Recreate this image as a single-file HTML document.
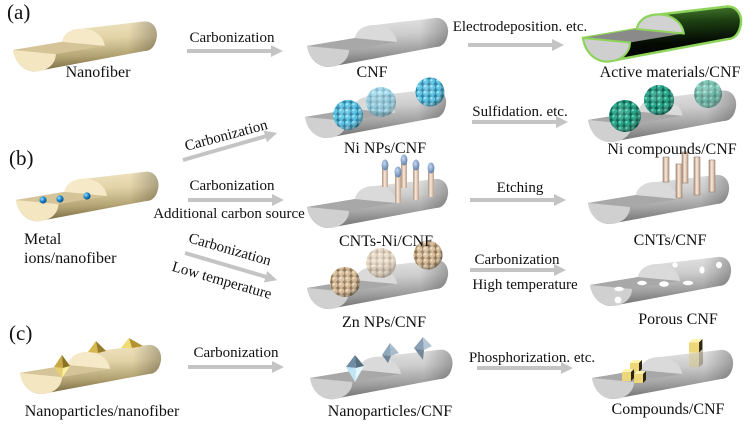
<!DOCTYPE html>
<html>
<head>
<meta charset="utf-8">
<style>
  html,body{margin:0;padding:0;background:#fff;}
  svg{display:block;}
  text{font-family:"Liberation Serif","Times New Roman",serif;fill:#111;}
</style>
</head>
<body>
<svg width="754" height="425" viewBox="0 0 754 425" xmlns="http://www.w3.org/2000/svg" xmlns:xlink="http://www.w3.org/1999/xlink">
<defs>
  <linearGradient id="gCream" x1="0" y1="0" x2="0.12" y2="1">
    <stop offset="0" stop-color="#f2e6c3"/>
    <stop offset="0.4" stop-color="#e2d3a7"/>
    <stop offset="0.75" stop-color="#b3a373"/>
    <stop offset="1" stop-color="#7a6b43"/>
  </linearGradient>
  <linearGradient id="gGray" x1="0" y1="0" x2="0.12" y2="1">
    <stop offset="0" stop-color="#e6e6e6"/>
    <stop offset="0.4" stop-color="#cdcdcd"/>
    <stop offset="0.75" stop-color="#9e9e9e"/>
    <stop offset="1" stop-color="#727272"/>
  </linearGradient>
  <linearGradient id="gGreen" x1="0" y1="0" x2="0.12" y2="1">
    <stop offset="0" stop-color="#4f8a34"/>
    <stop offset="0.35" stop-color="#1d3f12"/>
    <stop offset="0.7" stop-color="#050c03"/>
    <stop offset="1" stop-color="#000"/>
  </linearGradient>
  <linearGradient id="gEnd" x1="0" y1="0" x2="1" y2="0">
    <stop offset="0.8" stop-color="#000" stop-opacity="0"/>
    <stop offset="1" stop-color="#000" stop-opacity="0.25"/>
  </linearGradient>
  <linearGradient id="gTube" x1="0" y1="0" x2="1" y2="0">
    <stop offset="0" stop-color="#b0927c"/>
    <stop offset="0.45" stop-color="#f9eadc"/>
    <stop offset="1" stop-color="#bc9e88"/>
  </linearGradient>
  <radialGradient id="gCap" cx="0.4" cy="0.35" r="0.7">
    <stop offset="0" stop-color="#c4d8f2"/>
    <stop offset="1" stop-color="#5a7aa8"/>
  </radialGradient>
  <radialGradient id="gIon" cx="0.35" cy="0.35" r="0.7">
    <stop offset="0" stop-color="#9fe0ff"/>
    <stop offset="0.5" stop-color="#1c8ad0"/>
    <stop offset="1" stop-color="#064a80"/>
  </radialGradient>
  <radialGradient id="gShade" cx="0.4" cy="0.38" r="0.65">
    <stop offset="0" stop-color="#fff" stop-opacity="0.2"/>
    <stop offset="0.6" stop-color="#fff" stop-opacity="0"/>
    <stop offset="1" stop-color="#000" stop-opacity="0.4"/>
  </radialGradient>
  <pattern id="pBlue" width="6.5" height="6" patternUnits="userSpaceOnUse">
    <rect width="6.5" height="6" fill="#2a7c9c"/>
    <circle cx="3.25" cy="3" r="3" fill="#58c2e4"/>
    <circle cx="2.5" cy="2.2" r="1.1" fill="#a8e6f8"/>
  </pattern>
  <pattern id="pTeal" width="6.5" height="6" patternUnits="userSpaceOnUse">
    <rect width="6.5" height="6" fill="#0c5a4a"/>
    <circle cx="3.25" cy="3" r="3" fill="#22a386"/>
    <circle cx="2.5" cy="2.2" r="1.1" fill="#6fd6bd"/>
  </pattern>
  <pattern id="pTan" width="6.5" height="6" patternUnits="userSpaceOnUse">
    <rect width="6.5" height="6" fill="#8c7356"/>
    <circle cx="3.25" cy="3" r="3" fill="#d6ba95"/>
    <circle cx="2.5" cy="2.2" r="1.1" fill="#f1e0c6"/>
  </pattern>

  <path id="sil" d="M0,0 L48,-8 C50,-17 58,-21 68,-21 L128,-28 C137,-29 142,-21 141,-13 C140,-5 136,1 129,1 L22,21 C10,21 2,12 0,0 Z"/>
  <path id="upf" d="M48,-8 C50,-17 58,-21 68,-21 C80,-21 89,-13 90,-4 Z"/>
  <path id="strip" d="M0,0 L48,-8 L90,-4 L42,4 Z"/>
  <path id="frf" d="M0,0 L42,4 C42,13 34,21 22,21 C10,21 2,12 0,0 Z"/>

  <g id="fCream">
    <use xlink:href="#sil" fill="url(#gCream)"/>
    <use xlink:href="#sil" fill="url(#gEnd)"/>
    <use xlink:href="#strip" fill="#d5c497"/>
    <use xlink:href="#upf" fill="#f5e9c8"/>
    <use xlink:href="#frf" fill="#f3e6c0"/>
  </g>
  <g id="fGray">
    <use xlink:href="#sil" fill="url(#gGray)"/>
    <use xlink:href="#sil" fill="url(#gEnd)"/>
    <use xlink:href="#strip" fill="#a8a8a8"/>
    <use xlink:href="#upf" fill="#dadada"/>
    <use xlink:href="#frf" fill="#d0d0d0"/>
  </g>
  <g id="fGreen">
    <use xlink:href="#sil" fill="url(#gGreen)" stroke="#8ed45a" stroke-width="2.2"/>
    <use xlink:href="#strip" fill="#8a8a8a"/>
    <use xlink:href="#upf" fill="#d2d2d2" stroke="#8ed45a" stroke-width="1.8"/>
    <use xlink:href="#frf" fill="#cfcfcf" stroke="#8ed45a" stroke-width="1.8"/>
  </g>

  <g id="arr" fill="#c4c4c4">
    <rect x="0" y="-2" width="85" height="4"/>
    <polygon points="84,-6 96,0 84,6"/>
  </g>

  <g id="cube">
    <polygon points="0,3 3,0 12,0 9,3" fill="#fff3b0"/>
    <rect x="0" y="3" width="9" height="9" fill="#eed778"/>
    <polygon points="9,3 12,0 12,9 9,12" fill="#2e2610"/>
  </g>
</defs>

<!-- ===== Panel labels ===== -->
<text x="7" y="19" font-size="21">(a)</text>
<text x="9" y="165" font-size="21">(b)</text>
<text x="9" y="340" font-size="21">(c)</text>

<!-- ===== Fibers ===== -->
<use xlink:href="#fCream" transform="translate(13,50) scale(1.02)"/>
<use xlink:href="#fGray" transform="translate(307,46)"/>
<use xlink:href="#fGreen" transform="translate(583,38) scale(1.12)"/>

<use xlink:href="#fCream" transform="translate(16,200) scale(1.01)"/>
<use xlink:href="#fGray" transform="translate(305,117)"/>
<use xlink:href="#fGray" transform="translate(588,120) scale(1.05)"/>
<use xlink:href="#fGray" transform="translate(307,207)"/>
<use xlink:href="#fGray" transform="translate(588,203)"/>
<use xlink:href="#fGray" transform="translate(307,288)"/>
<use xlink:href="#fGray" transform="translate(590,285)"/>

<use xlink:href="#fCream" transform="translate(20,373)"/>
<use xlink:href="#fGray" transform="translate(310,378) scale(1.01)"/>
<use xlink:href="#fGray" transform="translate(592,378)"/>

<!-- metal ions -->
<circle cx="43" cy="200" r="3.6" fill="url(#gIon)"/>
<circle cx="60" cy="199" r="3.6" fill="url(#gIon)"/>
<circle cx="87" cy="196" r="3.6" fill="url(#gIon)"/>

<!-- Ni NPs balls -->
<g>
  <circle cx="348" cy="115" r="15" fill="url(#pBlue)"/><circle cx="348" cy="115" r="15" fill="url(#gShade)"/>
  <g opacity="0.55"><circle cx="381" cy="102" r="15" fill="url(#pBlue)"/><circle cx="381" cy="102" r="15" fill="url(#gShade)"/></g>
  <circle cx="430" cy="92" r="14.5" fill="url(#pBlue)"/><circle cx="430" cy="92" r="14.5" fill="url(#gShade)"/>
</g>
<!-- Ni compounds balls -->
<g>
  <circle cx="625" cy="116" r="16" fill="url(#pTeal)"/><circle cx="625" cy="116" r="16" fill="url(#gShade)"/>
  <circle cx="659" cy="100" r="15" fill="url(#pTeal)"/><circle cx="659" cy="100" r="15" fill="url(#gShade)"/>
  <g opacity="0.6"><circle cx="708" cy="94" r="14" fill="url(#pTeal)"/><circle cx="708" cy="94" r="14" fill="url(#gShade)"/></g>
</g>
<!-- Zn balls -->
<g>
  <circle cx="345" cy="282" r="15" fill="url(#pTan)"/><circle cx="345" cy="282" r="15" fill="url(#gShade)"/>
  <g opacity="0.55"><circle cx="381" cy="263" r="15" fill="url(#pTan)"/><circle cx="381" cy="263" r="15" fill="url(#gShade)"/></g>
  <circle cx="428" cy="255" r="14.5" fill="url(#pTan)"/><circle cx="428" cy="255" r="14.5" fill="url(#gShade)"/>
</g>

<!-- CNTs-Ni tubes -->
<g>
  <rect x="382" y="165" width="6" height="22" fill="url(#gTube)"/><ellipse cx="385" cy="165" rx="3.4" ry="5.5" fill="url(#gCap)"/>
  <rect x="401" y="160" width="6" height="28" fill="url(#gTube)"/><ellipse cx="404" cy="160" rx="3.4" ry="5.5" fill="url(#gCap)"/>
  <rect x="428" y="168" width="6" height="29" fill="url(#gTube)"/><ellipse cx="431" cy="168" rx="3.4" ry="5.5" fill="url(#gCap)"/>
  <rect x="395" y="172" width="6" height="31" fill="url(#gTube)"/><ellipse cx="398" cy="172" rx="3.4" ry="5.5" fill="url(#gCap)"/>
  <rect x="413" y="165" width="6" height="35" fill="url(#gTube)"/><ellipse cx="416" cy="165" rx="3.4" ry="5.5" fill="url(#gCap)"/>
</g>
<!-- CNTs tubes -->
<g stroke="#9a7e6a" stroke-width="0.6">
  <rect x="663" y="157" width="6" height="25" fill="url(#gTube)"/>
  <rect x="682" y="152" width="6" height="31" fill="url(#gTube)"/>
  <rect x="709" y="160" width="6" height="32" fill="url(#gTube)"/>
  <rect x="676" y="164" width="6" height="34" fill="url(#gTube)"/>
  <rect x="694" y="157" width="6" height="38" fill="url(#gTube)"/>
</g>

<!-- Porous holes -->
<g fill="#fff">
  <ellipse cx="618" cy="300" rx="3.4" ry="3.4"/>
  <ellipse cx="619" cy="289" rx="4.8" ry="2.2"/>
  <ellipse cx="642" cy="283" rx="4.8" ry="2.2"/>
  <ellipse cx="664" cy="284" rx="4.8" ry="2.8"/>
  <ellipse cx="688" cy="283" rx="5.2" ry="2.2"/>
  <ellipse cx="675" cy="265" rx="2.6" ry="2.6"/>
  <ellipse cx="702" cy="270" rx="2.6" ry="3.6"/>
  <ellipse cx="719" cy="265" rx="3" ry="3.2"/>
</g>

<!-- Gold pyramids -->
<g>
  <polygon points="62,355 54,367 63,368" fill="#c8a845"/>
  <polygon points="62,355 70,366 63,368" fill="#8a7222"/>
  <polygon points="54,367 62,378 63,368" fill="#e6cf6e"/>
  <polygon points="70,366 62,378 63,368" fill="#fbee9e"/>
  <polygon points="96,341 88,352 98,353" fill="#d6b94e"/>
  <polygon points="96,341 106,351 98,353" fill="#96792a"/>
  <polygon points="129,338 121,348 132,348" fill="#f2da72"/>
  <polygon points="129,338 143,346 132,348" fill="#b39232"/>
</g>
<!-- Blue pyramids -->
<g>
  <polygon points="355,355 346,367 356,368" fill="#6f8da2"/>
  <polygon points="355,355 364,366 356,368" fill="#56707f"/>
  <polygon points="346,367 355,382 356,368" fill="#bfe6f6"/>
  <polygon points="364,366 355,382 356,368" fill="#e2f7ff"/>
  <polygon points="390,343 382,355 391,356" fill="#8ea6b9"/>
  <polygon points="390,343 399,353 391,356" fill="#a9bccb"/>
  <polygon points="391,356 382,355 388,363" fill="#6f8597"/>
  <polygon points="423,337 414,348 424,350" fill="#8aa0b5"/>
  <polygon points="423,337 432,346 424,350" fill="#b5c6d4"/>
  <polygon points="414,348 424,350 423,360" fill="#72889b"/>
</g>
<!-- Gold cubes -->
<g>
  <use xlink:href="#cube" transform="translate(630,360)"/>
  <use xlink:href="#cube" transform="translate(622,369)"/>
  <use xlink:href="#cube" transform="translate(634,371)"/>
  <g transform="translate(689,352)" opacity="0.35"><rect x="0" y="0" width="10" height="15" fill="#d8c060"/><polygon points="10,0 14,-3 14,12 10,15" fill="#5a4a20"/></g>
  <use xlink:href="#cube" transform="translate(689,339) scale(1.12)"/>
</g>

<!-- ===== Arrows ===== -->
<use xlink:href="#arr" transform="translate(187,51)"/>
<use xlink:href="#arr" transform="translate(468,45)"/>
<use xlink:href="#arr" transform="translate(183,160) rotate(-16) scale(1.02,1)"/>
<use xlink:href="#arr" transform="translate(472,122)"/>
<use xlink:href="#arr" transform="translate(188,200)"/>
<use xlink:href="#arr" transform="translate(470,200)"/>
<use xlink:href="#arr" transform="translate(185,253) rotate(16.4)"/>
<use xlink:href="#arr" transform="translate(470,270)"/>
<use xlink:href="#arr" transform="translate(188,367)"/>
<use xlink:href="#arr" transform="translate(477,368)"/>

<!-- ===== Arrow labels ===== -->
<g font-size="15" text-anchor="middle">
  <text x="232" y="42">Carbonization</text>
  <text x="520" y="31">Electrodeposition. etc.</text>
  <text transform="translate(226,135) rotate(-15)" y="5">Carbonization</text>
  <text x="520" y="116">Sulfidation. etc.</text>
  <text x="232" y="190">Carbonization</text>
  <text x="229" y="218">Additional carbon source</text>
  <text x="520" y="192">Etching</text>
  <text transform="translate(230,249) rotate(16)" y="5">Carbonization</text>
  <text transform="translate(222,280) rotate(16)" y="5">Low temperature</text>
  <text x="517" y="264">Carbonization</text>
  <text x="525" y="289">High temperature</text>
  <text x="236" y="357">Carbonization</text>
  <text x="532" y="362">Phosphorization. etc.</text>
</g>

<!-- ===== Node labels ===== -->
<g font-size="16" text-anchor="middle">
  <text x="98" y="77">Nanofiber</text>
  <text x="372" y="77">CNF</text>
  <text x="670" y="77">Active materials/CNF</text>
  <text x="385" y="153">Ni NPs/CNF</text>
  <text x="672" y="154">Ni compounds/CNF</text>
  <text x="386" y="246">CNTs-Ni/CNF</text>
  <text x="670" y="245">CNTs/CNF</text>
  <text x="384" y="327">Zn NPs/CNF</text>
  <text x="678" y="324">Porous CNF</text>
  <text x="102" y="416">Nanoparticles/nanofiber</text>
  <text x="390" y="416">Nanoparticles/CNF</text>
  <text x="668" y="414">Compounds/CNF</text>
</g>
<g font-size="16">
  <text x="24" y="244">Metal</text>
  <text x="24" y="263">ions/nanofiber</text>
</g>
</svg>
</body>
</html>
